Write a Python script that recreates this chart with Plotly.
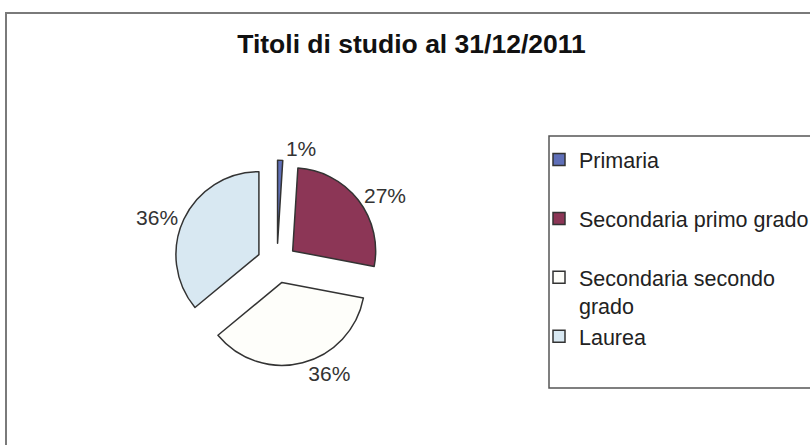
import plotly.graph_objects as go

# ---- data ----
categories = ["Primaria", "Secondaria primo grado", "Secondaria secondo grado", "Laurea"]
values = [1, 27, 36, 36]
# legend display text (wrapping / spacing as in the original legend)
legend_text = ["Primaria<br> ", "Secondaria primo grado<br> ", "Secondaria secondo<br>grado", "Laurea"]
colors = ["#5f6fb8", "#8c3656", "#fefefa", "#d8e8f2"]
title_text = "Titoli di studio al 31/12/2011"

W, H = 810, 445

fig = go.Figure()
fig.add_trace(go.Pie(
    labels=legend_text,
    values=values,
    sort=False,
    direction="clockwise",
    rotation=0,
    pull=[0.24] * len(values),
    marker=dict(colors=colors, line=dict(color="#333333", width=1.5)),
    textinfo="percent",
    texttemplate="%{percent:.0%}",
    textposition="outside",
    outsidetextfont=dict(family="Liberation Sans, Arial", size=21, color="#333333"),
    domain=dict(x=[0.2148, 0.469], y=[0.1775, 0.640]),
    hovertext=categories,
    hoverinfo="text+percent",
))

fig.update_layout(
    width=W, height=H,
    margin=dict(l=0, r=0, t=0, b=0, autoexpand=False),
    paper_bgcolor="white",
    plot_bgcolor="white",
    font=dict(family="Liberation Sans, Arial", size=21, color="#222222"),
    title=dict(text="<b>" + title_text + "</b>", x=411.5 / W, xanchor="center",
               xref="paper", y=1 - 44 / H, yref="container", yanchor="middle",
               font=dict(family="Liberation Sans, Arial", size=26.5, color="#111111")),
    showlegend=True,
    legend=dict(x=539 / W, xanchor="left", y=1 - 139 / H, yanchor="top",
                bgcolor="rgba(0,0,0,0)", borderwidth=0, valign="top",
                font=dict(family="Liberation Sans, Arial", size=21.5, color="#222222")),
    shapes=[
        # outer chart frame (continues past right and bottom edges)
        dict(type="rect", xref="paper", yref="paper",
             x0=6 / W, x1=1.05, y0=-0.05, y1=1 - 13 / H,
             line=dict(color="#7a7a7a", width=2), fillcolor="rgba(0,0,0,0)", layer="below"),
        # legend frame
        dict(type="rect", xref="paper", yref="paper",
             x0=549 / W, x1=1.05, y0=1 - 388 / H, y1=1 - 136 / H,
             line=dict(color="#555555", width=1.5), fillcolor="rgba(0,0,0,0)", layer="below"),
    ],
)

fig.write_html(
    "out.html",
    config={"displayModeBar": False},
    post_script="document.body.style.margin='0';document.body.style.overflow='hidden';",
)
